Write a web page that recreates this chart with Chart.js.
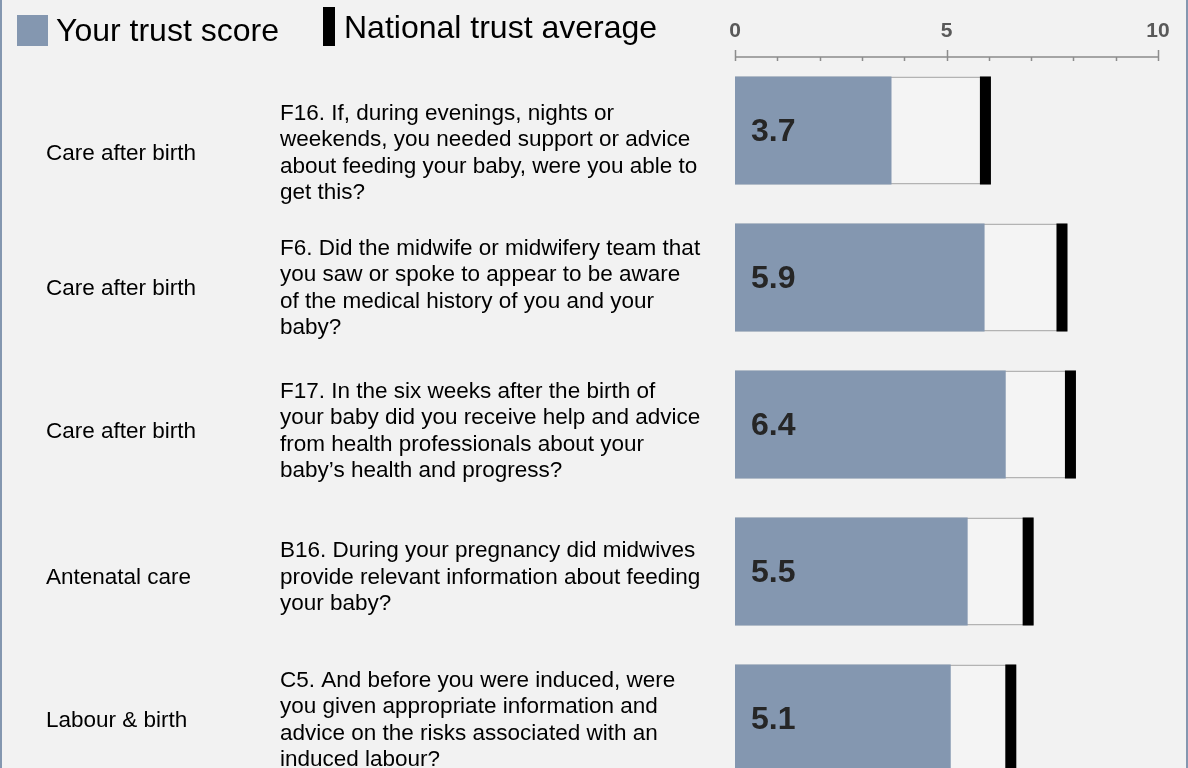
<!DOCTYPE html>
<html lang="en">
  <head>
    <meta charset="UTF-8" />
    <title>Trust score vs national average</title>
    <script src="https://cdn.jsdelivr.net/npm/chart.js"></script>
    <style>
      html, body { margin: 0; padding: 0; background: #f2f2f2; overflow: hidden; }
      #wrap { position: absolute; left: 0; top: 0; width: 1188px; height: 792px; }
      #frame {
        position: fixed; left: 0; top: 0; width: 1188px; height: 768px;
        box-sizing: border-box; border-left: 2px solid #8497b0; border-right: 2px solid #8497b0;
        pointer-events: none;
      }
    </style>
  </head>
  <body>
    <div id="wrap"><canvas id="trustChart"></canvas></div>
    <div id="frame"></div>
    <script>
      const sections = ["Care after birth", "Care after birth", "Care after birth", "Antenatal care", "Labour & birth"];
      const questions = [
        ["F16. If, during evenings, nights or", "weekends, you needed support or advice", "about feeding your baby, were you able to", "get this?"],
        ["F6. Did the midwife or midwifery team that", "you saw or spoke to appear to be aware", "of the medical history of you and your", "baby?"],
        ["F17. In the six weeks after the birth of", "your baby did you receive help and advice", "from health professionals about your", "baby\u2019s health and progress?"],
        ["B16. During your pregnancy did midwives", "provide relevant information about feeding", "your baby?"],
        ["C5. And before you were induced, were", "you given appropriate information and", "advice on the risks associated with an", "induced labour?"]
      ];
      const trustScore = [3.7, 5.9, 6.4, 5.5, 5.1];
      const nationalAvg = [5.92, 7.73, 7.93, 6.93, 6.52];
      const tickLabels = [0, 5, 10];

      // the left-hand text rows sit a little below their bars in the original
      const textShift = [23, 11, 7, 6, 2];
      const FONT = '"Liberation Sans", Arial, sans-serif';
      const markHalf = 0.13;

      const textPlugin = {
        id: "sideText",
        afterDraw(chart) {
          const ctx = chart.ctx;
          const x = chart.scales.x;
          const y = chart.scales.y;
          ctx.save();

          // legend
          ctx.fillStyle = "#8497b0";
          ctx.fillRect(17, 15, 31, 31);
          ctx.fillStyle = "#000";
          ctx.fillRect(323, 7, 12, 39);
          ctx.font = "32px " + FONT;
          ctx.textBaseline = "alphabetic";
          ctx.textAlign = "left";
          ctx.fillText("Your trust score", 56, 41);
          ctx.fillText("National trust average", 344, 38);

          // axis line and ticks
          const axisY = x.top + x.height;
          ctx.strokeStyle = "#8c8c8c";
          ctx.lineWidth = 1.5;
          ctx.beginPath();
          ctx.moveTo(x.getPixelForValue(0), axisY);
          ctx.lineTo(x.getPixelForValue(10), axisY);
          for (let v = 0; v <= 10; v++) {
            const px = Math.round(x.getPixelForValue(v)) + 0.5;
            const major = tickLabels.includes(v);
            ctx.moveTo(px, major ? axisY - 7 : axisY);
            ctx.lineTo(px, axisY + 4);
          }
          ctx.stroke();

          // row labels
          ctx.fillStyle = "#000";
          ctx.font = "22.5px " + FONT;
          ctx.textBaseline = "middle";
          sections.forEach((s, i) => {
            const cy = y.getPixelForValue(i) + textShift[i];
            ctx.fillText(s, 46, cy);
            const lines = questions[i];
            const lh = 26.5;
            const top = cy - (lines.length - 1) * lh / 2;
            lines.forEach((ln, j) => ctx.fillText(ln, 280, top + j * lh));
          });

          // values inside bars
          ctx.fillStyle = "#262626";
          ctx.font = "bold 32px " + FONT;
          trustScore.forEach((v, i) => {
            ctx.fillText(v.toFixed(1), x.getPixelForValue(0) + 16, y.getPixelForValue(i) + 2);
          });
          ctx.restore();
        }
      };

      const ctx = document.getElementById("trustChart").getContext("2d");
      new Chart(ctx, {
        type: "bar",
        data: {
          labels: sections,
          datasets: [
            {
              label: "National trust average",
              data: nationalAvg.map((v) => [v - markHalf, v + markHalf]),
              backgroundColor: "#000000",
              borderWidth: 0,
              order: 0,
            },
            {
              label: "Your trust score",
              data: trustScore,
              backgroundColor: "#8497b0",
              borderWidth: 0,
              order: 1,
            },
            {
              label: "range",
              data: nationalAvg.map((v) => v + markHalf),
              backgroundColor: "#f4f4f4",
              borderColor: "#b3b3b3",
              borderWidth: 1.5,
              borderSkipped: false,
              order: 2,
            },
          ],
        },
        options: {
          indexAxis: "y",
          responsive: true,
          maintainAspectRatio: false,
          animation: false,
          datasets: {
            bar: { grouped: false, barPercentage: 108 / 147, categoryPercentage: 1 },
          },
          layout: { padding: { left: 735, right: 30, top: 0, bottom: 0 } },
          scales: {
            x: {
              position: "top",
              min: 0,
              max: 10,
              grid: { display: false, drawTicks: false },
              border: { display: false },
              ticks: {
                stepSize: 1,
                autoSkip: false,
                maxRotation: 0,
                padding: 13,
                color: "#595959",
                font: { family: FONT, size: 21, weight: "bold" },
                callback: (v) => (tickLabels.includes(v) ? String(v) : ""),
              },
              afterFit: (s) => { s.height = 57; },
            },
            y: { display: false },
          },
          plugins: { legend: { display: false }, tooltip: { enabled: false } },
        },
        plugins: [textPlugin],
      });
    </script>
  </body>
</html>
